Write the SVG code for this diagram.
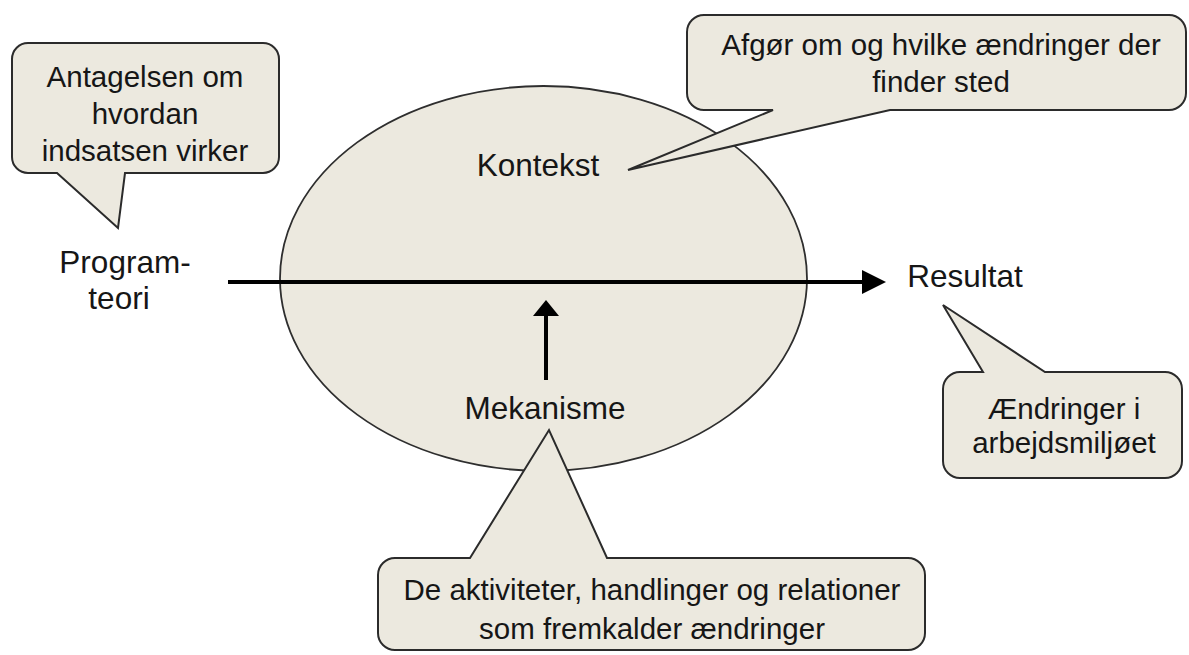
<svg xmlns="http://www.w3.org/2000/svg" width="1189" height="655" viewBox="0 0 1189 655">
<style>
.shape{fill:#ECE9DF;stroke:#2b2b2b;stroke-width:2;stroke-linejoin:miter}
.ell{fill:#ECE9DF;stroke:#2e2e2e;stroke-width:1.8}
text{font-family:"Liberation Sans",Arial,sans-serif;fill:#161616;text-anchor:middle}
.c{font-size:29.5px}
.l{font-size:31.5px}
.arrow{stroke:#000;stroke-width:4;fill:none}
</style>
<defs>
<marker id="ah" markerWidth="24" markerHeight="26" refX="0" refY="13" orient="auto" markerUnits="userSpaceOnUse">
<path d="M0,1 L24,13 L0,25 Z" fill="#000"/>
</marker>
<marker id="ah2" markerWidth="16" markerHeight="26" refX="0" refY="13" orient="auto" markerUnits="userSpaceOnUse">
<path d="M0,0 L16,13 L0,26 Z" fill="#000"/>
</marker>
</defs>
<g id="kontekst-ellipse">
<ellipse class="ell" cx="543.5" cy="278.5" rx="263.5" ry="192.5"/>
<text class="l" x="538" y="176">Kontekst</text>
</g>
<g id="connectors">
<line class="arrow" x1="228" y1="282" x2="862" y2="282" marker-end="url(#ah)"/>
<line class="arrow" x1="546" y1="380" x2="546" y2="316" marker-end="url(#ah2)"/>
</g>
<g id="mekanisme">
<text class="l" x="545" y="419">Mekanisme</text>
</g>
<g id="programteori">
<text class="l" x="125" y="273">Program-</text>
<text class="l" x="119" y="309">teori</text>
</g>
<g id="resultat">
<text class="l" x="965" y="287">Resultat</text>
</g>
<g id="callout-programteori">
<path class="shape" d="M28,43 H263 A16,16 0 0 1 279,59 V157 A16,16 0 0 1 263,173 H125 L118,228 L57,173 H28 A16,16 0 0 1 12,157 V59 A16,16 0 0 1 28,43 Z"/>
<text class="c" x="145" y="87">Antagelsen om</text>
<text class="c" x="145" y="124">hvordan</text>
<text class="c" x="145" y="161">indsatsen virker</text>
</g>
<g id="callout-kontekst">
<path class="shape" d="M704,15 H1169 A17,17 0 0 1 1186,32 V93 A17,17 0 0 1 1169,110 H890 L628,170 L773,110 H704 A17,17 0 0 1 687,93 V32 A17,17 0 0 1 704,15 Z"/>
<text class="c" x="941" y="55">Afgør om og hvilke ændringer der</text>
<text class="c" x="941" y="92">finder sted</text>
</g>
<g id="callout-resultat">
<path class="shape" d="M960,372 H983 L943,305 L1045,372 H1165 A17,17 0 0 1 1182,389 V461 A17,17 0 0 1 1165,478 H960 A17,17 0 0 1 943,461 V389 A17,17 0 0 1 960,372 Z"/>
<text class="c" x="1064" y="419">Ændringer i</text>
<text class="c" x="1064" y="453">arbejdsmiljøet</text>
</g>
<g id="callout-mekanisme">
<path class="shape" d="M395,558 H470 L549,430 L607,558 H908 A17,17 0 0 1 925,575 V633 A17,17 0 0 1 908,650 H395 A17,17 0 0 1 378,633 V575 A17,17 0 0 1 395,558 Z"/>
<text class="c" x="652" y="600">De aktiviteter, handlinger og relationer</text>
<text class="c" x="652" y="639">som fremkalder ændringer</text>
</g>
</svg>
